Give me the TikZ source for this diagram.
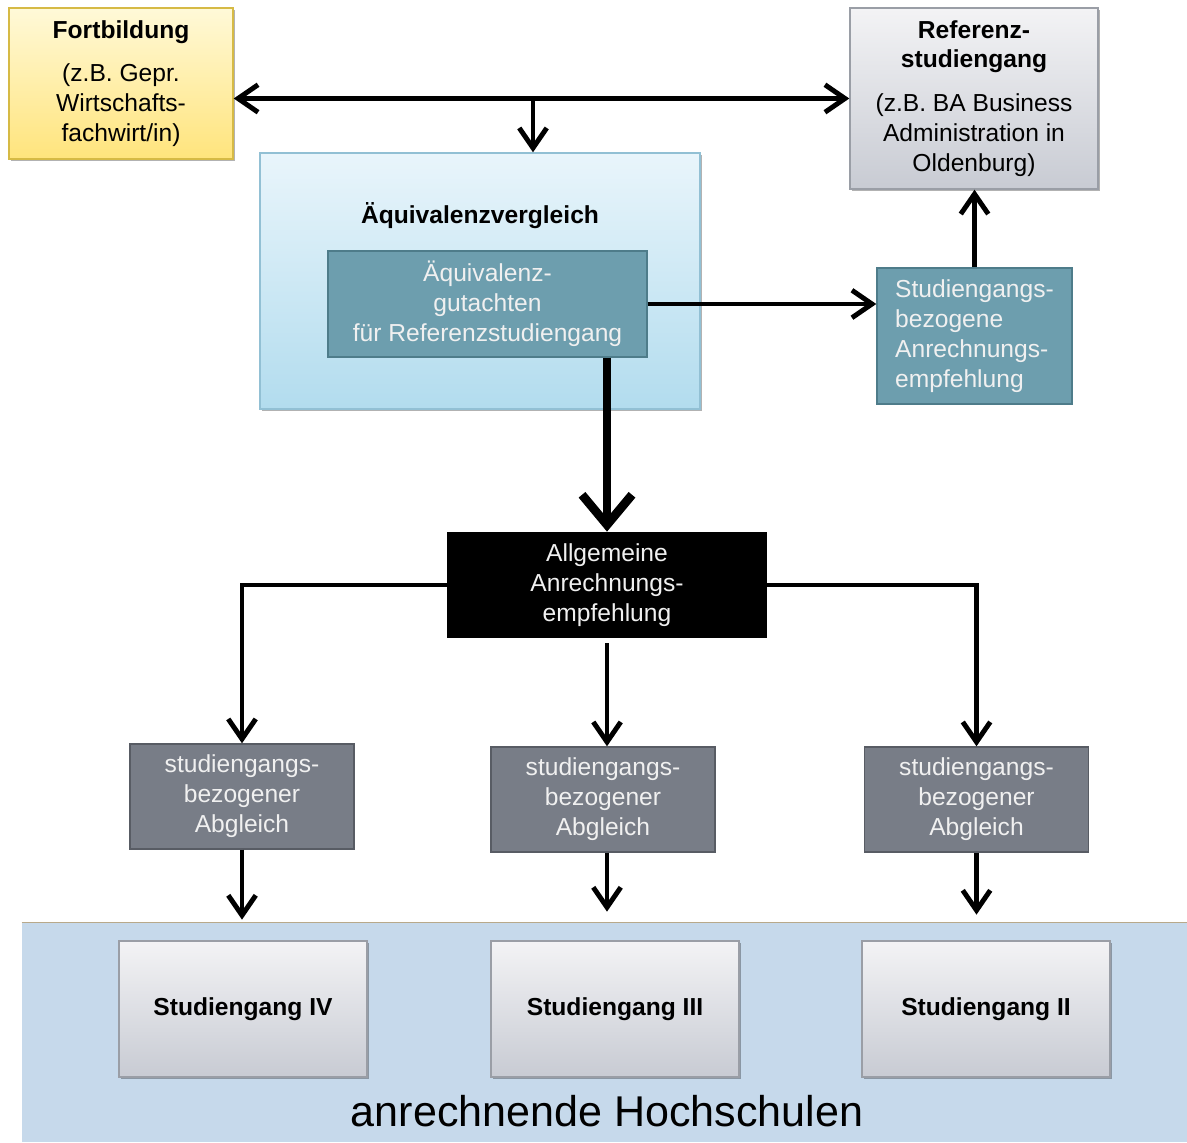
\documentclass[tikz,border=0pt]{standalone}
\usepackage{fontspec}
\setmainfont{Liberation Sans}
\usetikzlibrary{arrows.meta,positioning,shadows}
\definecolor{fbtop}{HTML}{FFF9D8}
\definecolor{fbbot}{HTML}{FFE47C}
\definecolor{fbline}{HTML}{D6BA45}
\definecolor{grtop}{HTML}{F3F3F5}
\definecolor{grbot}{HTML}{C8CBD3}
\definecolor{grline}{HTML}{9A9EA6}
\definecolor{bltop}{HTML}{E9F5FB}
\definecolor{blbot}{HTML}{B2DCEE}
\definecolor{blline}{HTML}{92C0D4}
\definecolor{teal}{HTML}{6D9EAE}
\definecolor{tealline}{HTML}{4E7C8A}
\definecolor{slate}{HTML}{787D87}
\definecolor{slateline}{HTML}{585C64}
\definecolor{hsfill}{HTML}{C6D9EB}
\definecolor{hsline}{HTML}{B8A98A}
\tikzset{
  txt/.style       = {font=\fontsize{14}{17}\selectfont, align=center, inner sep=0pt},
  softshadow/.style= {drop shadow={shadow xshift=1.2pt, shadow yshift=-1.2pt,
                      opacity=0.3, fill=black}},
  fbbox/.style     = {txt, draw=fbline, line width=0.8pt, top color=fbtop,
                      bottom color=fbbot, softshadow},
  refbox/.style    = {txt, draw=grline, line width=0.8pt, top color=grtop,
                      bottom color=grbot, softshadow},
  aeqbox/.style    = {draw=blline, line width=0.8pt, top color=bltop,
                      bottom color=blbot, softshadow, inner sep=0pt},
  tealbox/.style   = {txt, draw=tealline, line width=0.8pt, fill=teal,
                      text=white!94!black},
  allgbox/.style   = {txt, fill=black, text=white!94!black},
  abgbox/.style    = {txt, draw=slateline, line width=0.8pt, fill=slate,
                      text=white!94!black},
  flow/.style      = {-{Straight Barb[length=4mm,width=5.5mm]}, line width=2.8pt},
  bothflow/.style  = {{Straight Barb[length=4mm,width=5.5mm]}-{Straight Barb[length=4mm,width=5.5mm]},
                      line width=2.8pt},
  bigflow/.style   = {-{Straight Barb[length=6mm,width=10mm]}, line width=5pt},
}
\begin{document}
\begin{tikzpicture}
  \useasboundingbox (0,0) rectangle (23.74,-22.84);

  % obere Reihe
  \node[fbbox, minimum width=4.48cm, minimum height=3.02cm] (fort) at (2.42,-1.67)
    {\textbf{Fortbildung}\\[8pt](z.B. Gepr.\\Wirtschafts-\\fachwirt/in)};
  \node[refbox, minimum width=4.96cm, minimum height=3.62cm] (ref) at (19.48,-1.97)
    {\textbf{Referenz-}\\\textbf{studiengang}\\[8pt](z.B. BA Business\\Administration in\\Oldenburg)};

  % Aequivalenzvergleich
  \node[aeqbox, minimum width=8.8cm, minimum height=5.12cm] (aeq) at (9.6,-5.62) {};
  \node[txt] (aeqtitle) at (9.6,-4.32) {\textbf{Äquivalenzvergleich}};
  \node[tealbox, minimum width=6.38cm, minimum height=2.12cm] (gut) at (9.75,-6.08)
    {Äquivalenz-\\gutachten\\für Referenzstudiengang};
  \node[tealbox, align=left, minimum width=3.9cm, minimum height=2.72cm] (sbez) at (19.49,-6.72)
    {Studiengangs-\\bezogene\\Anrechnungs-\\empfehlung};

  % allgemeine Empfehlung
  \node[allgbox, minimum width=6.4cm, minimum height=2.12cm] (allg) at (12.14,-11.7)
    {Allgemeine\\Anrechnungs-\\empfehlung};

  % Abgleiche
  \node[abgbox, minimum width=4.48cm, minimum height=2.1cm] (abgA) at (4.84,-15.93)
    {studiengangs-\\bezogener\\Abgleich};
  \node[abgbox, minimum width=4.48cm, minimum height=2.1cm] (abgB) at (12.06,-15.99)
    {studiengangs-\\bezogener\\Abgleich};
  \node[abgbox, minimum width=4.48cm, minimum height=2.1cm] (abgC) at (19.53,-15.99)
    {studiengangs-\\bezogener\\Abgleich};

  % anrechnende Hochschulen
  \node[fill=hsfill, inner sep=0pt, minimum width=23.3cm, minimum height=4.38cm] (hs) at (12.09,-20.65) {};
  \draw[hsline, line width=0.8pt] (hs.north west) -- (hs.north east);
  \node[refbox, minimum width=4.96cm, minimum height=2.72cm] (sgIV) at (4.86,-20.18) {\textbf{Studiengang IV}};
  \node[refbox, minimum width=4.96cm, minimum height=2.72cm] (sgIII) at (12.3,-20.18) {\textbf{Studiengang III}};
  \node[refbox, minimum width=4.96cm, minimum height=2.72cm] (sgII) at (19.72,-20.18) {\textbf{Studiengang II}};
  \node[txt, font=\fontsize{24.5}{28}\selectfont] (hstitle) at (12.14,-22.22) {anrechnende Hochschulen};

  % Verbindungen
  \coordinate (split) at (10.66,-1.96);
  \draw[bothflow] (fort.east |- ref.west) -- (ref.west);
  \draw[flow] (split) -- (split |- aeq.north);
  \draw[flow] (gut.east) -- (gut.east -| sbez.west);
  \draw[flow] (sbez.north) -- (sbez.north |- ref.south);
  \draw[bigflow] (allg.north |- gut.south) -- (allg.north);
  \draw[flow] (allg.west) -| (abgA.north);
  \draw[flow] (allg.east) -| (abgC.north);
  \draw[flow] ([yshift=-1mm]allg.south) -- (allg.south |- abgB.north);
  \draw[flow] (abgA.south) -- ([yshift=0.6mm]abgA.south |- hs.north);
  \draw[flow] (abgB.south -| allg.south) -- ([yshift=2.2mm]allg.south |- hs.north);
  \draw[flow] (abgC.south) -- ([yshift=1.6mm]abgC.south |- hs.north);
\end{tikzpicture}
\end{document}
